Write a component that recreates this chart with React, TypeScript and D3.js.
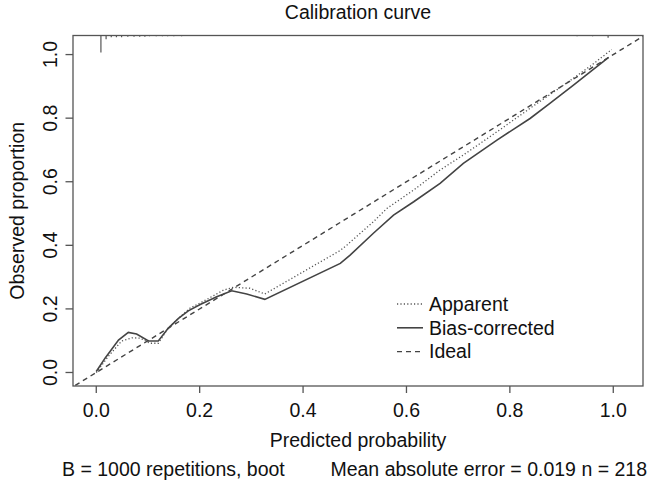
import React from "react";
import * as d3 from "d3";

// ---- data ----
const apparentX = [0, 0.023, 0.049, 0.069, 0.085, 0.104, 0.12, 0.139, 0.159, 0.181, 0.214, 0.246, 0.265, 0.297, 0.326, 0.472, 0.485, 0.536, 0.562, 0.614, 0.665, 0.71, 0.775, 0.839, 0.904, 0.956, 0.997];
const apparentY = [0, 0.05, 0.099, 0.109, 0.108, 0.092, 0.092, 0.139, 0.17, 0.202, 0.23, 0.259, 0.268, 0.265, 0.247, 0.384, 0.401, 0.474, 0.516, 0.574, 0.637, 0.684, 0.757, 0.831, 0.904, 0.964, 1.016];

const biasX = [0, 0.017, 0.043, 0.062, 0.078, 0.101, 0.12, 0.139, 0.159, 0.178, 0.201, 0.233, 0.262, 0.291, 0.326, 0.472, 0.491, 0.536, 0.575, 0.614, 0.665, 0.71, 0.775, 0.839, 0.878, 0.923, 0.956, 0.991];
const biasY = [0.003, 0.045, 0.102, 0.126, 0.121, 0.099, 0.099, 0.139, 0.17, 0.194, 0.214, 0.238, 0.257, 0.247, 0.23, 0.343, 0.369, 0.438, 0.495, 0.537, 0.595, 0.658, 0.731, 0.799, 0.847, 0.904, 0.946, 0.991];

const idealLine = [-0.1, 1.2];

const rugPred = [0.009, 0.019, 0.029, 0.039, 0.049, 0.061, 0.073, 0.084, 0.094, 0.103, 0.116, 0.128, 0.138, 0.15, 0.165, 0.18, 0.22, 0.26, 0.31, 0.38, 0.45, 0.83, 0.85, 0.875, 0.9, 0.93, 0.96, 0.99];
const rugCount = [40, 9, 4, 4, 4, 3, 3, 3, 3, 2, 2, 2, 2, 2, 2, 1, 1, 1, 1, 1, 1, 1, 1, 1, 1, 2, 2, 5];

const xTicks = [0, 0.2, 0.4, 0.6, 0.8, 1.0];
const yTicks = [0, 0.2, 0.4, 0.6, 0.8, 1.0];

const legendLabels = ["Apparent", "Bias-corrected", "Ideal"];

const title = "Calibration curve";
const xTitle = "Predicted probability";
const yTitle = "Observed proportion";
const subLeft = "B = 1000 repetitions, boot";
const subRight = "Mean absolute error = 0.019 n = 218";

// ---- layout ----
const W = 649;
const H = 486;
const box = { left: 73, right: 643, top: 35.5, bottom: 386 };
const FONT = "'Liberation Sans', Arial, Helvetica, sans-serif";
const FS = 19.5;
const INK = "#3a3a3a";

export default function App() {
  const x = d3.scaleLinear().domain([-0.045, 1.0575]).range([box.left, box.right]);
  const y = d3.scaleLinear().domain([-0.0425, 1.06]).range([box.bottom, box.top]);
  const rugLen = d3.scaleLinear().domain([0, 40]).range([0, 17]);

  const line = d3
    .line<[number, number]>()
    .x((d) => x(d[0]))
    .y((d) => y(d[1]));

  const apparent = apparentX.map((v, i) => [v, apparentY[i]] as [number, number]);
  const bias = biasX.map((v, i) => [v, biasY[i]] as [number, number]);
  const ideal = idealLine.map((v) => [v, v] as [number, number]);

  const styles = [
    { dash: "1.2 2.2", width: 1.3, color: "#555" },
    { dash: "none", width: 1.6, color: "#444" },
    { dash: "5 4", width: 1.4, color: "#444" },
  ];

  const legX0 = 397;
  const legX1 = 423;
  const legTextX = 429;
  const legY0 = 304;
  const legDY = 23.8;

  return (
    <svg
      width={W}
      height={H}
      style={{ position: "absolute", left: 0, top: 0, background: "#fff" }}
      fontFamily={FONT}
    >
      <defs>
        <clipPath id="plotClip">
          <rect x={box.left} y={box.top} width={box.right - box.left} height={box.bottom - box.top} />
        </clipPath>
      </defs>
      <rect x={0} y={0} width={W} height={H} fill="#fff" />

      {/* title */}
      <text x={(box.left + box.right) / 2} y={19} textAnchor="middle" fontSize={FS} fill="#111">
        {title}
      </text>

      {/* curves */}
      <g clipPath="url(#plotClip)" fill="none">
        <path d={line(ideal) || ""} stroke={styles[2].color} strokeWidth={styles[2].width} strokeDasharray={styles[2].dash} />
        <path d={line(apparent) || ""} stroke={styles[0].color} strokeWidth={styles[0].width} strokeDasharray={styles[0].dash} />
        <path d={line(bias) || ""} stroke={styles[1].color} strokeWidth={styles[1].width} />
        {/* rug of predicted probabilities */}
        {rugPred.map((p, i) => (
          <line
            key={i}
            x1={x(p)}
            x2={x(p)}
            y1={box.top}
            y2={box.top + rugLen(rugCount[i])}
            stroke="#555"
            strokeWidth={1.2}
          />
        ))}
      </g>

      {/* box */}
      <rect
        x={box.left}
        y={box.top}
        width={box.right - box.left}
        height={box.bottom - box.top}
        fill="none"
        stroke="#555"
        strokeWidth={1.3}
      />

      {/* x axis */}
      {xTicks.map((t) => (
        <g key={"x" + t}>
          <line x1={x(t)} x2={x(t)} y1={box.bottom} y2={box.bottom + 7} stroke="#555" strokeWidth={1.3} />
          <text x={x(t)} y={417} textAnchor="middle" fontSize={FS} fill="#111">
            {t.toFixed(1)}
          </text>
        </g>
      ))}
      <text x={(box.left + box.right) / 2} y={447} textAnchor="middle" fontSize={FS} fill="#111">
        {xTitle}
      </text>

      {/* y axis */}
      {yTicks.map((t) => (
        <g key={"y" + t}>
          <line x1={box.left - 7.5} x2={box.left} y1={y(t)} y2={y(t)} stroke="#555" strokeWidth={1.3} />
          <text
            transform={`translate(57,${y(t)}) rotate(-90)`}
            textAnchor="middle"
            fontSize={FS}
            fill="#111"
          >
            {t.toFixed(1)}
          </text>
        </g>
      ))}
      <text
        transform={`translate(24,${(box.top + box.bottom) / 2}) rotate(-90)`}
        textAnchor="middle"
        fontSize={FS}
        fill="#111"
      >
        {yTitle}
      </text>

      {/* legend */}
      {legendLabels.map((lab, i) => (
        <g key={lab}>
          <line
            x1={legX0}
            x2={legX1}
            y1={legY0 + i * legDY}
            y2={legY0 + i * legDY}
            stroke={styles[i].color}
            strokeWidth={styles[i].width}
            strokeDasharray={styles[i].dash}
          />
          <text x={legTextX} y={legY0 + i * legDY} dy="0.35em" fontSize={FS} fill="#111">
            {lab}
          </text>
        </g>
      ))}

      {/* subtitle */}
      <text x={62} y={476} fontSize={FS} fill="#111">
        {subLeft}
      </text>
      <text x={647} y={476} textAnchor="end" fontSize={FS} fill="#111">
        {subRight}
      </text>
    </svg>
  );
}
